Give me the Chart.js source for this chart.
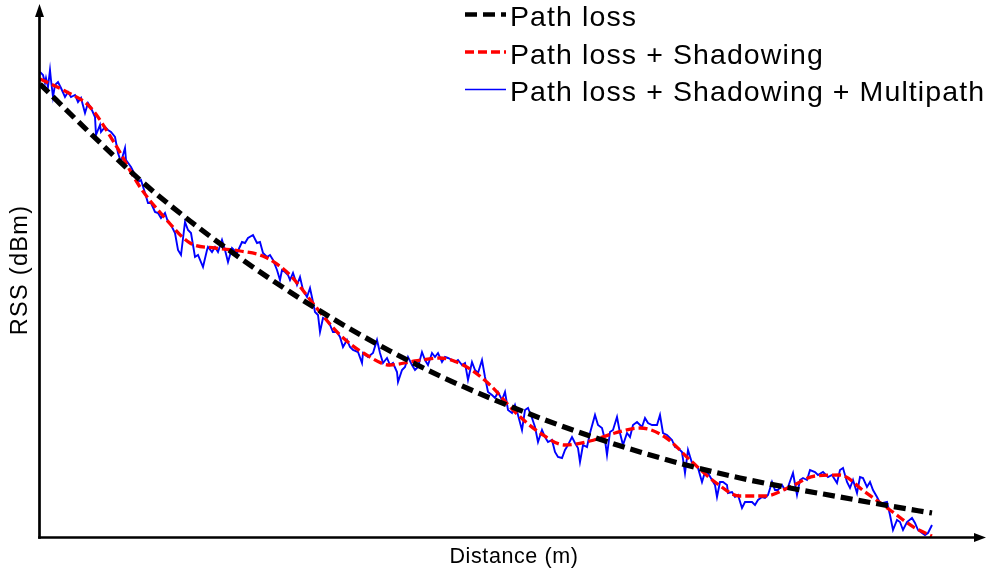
<!DOCTYPE html>
<html>
<head>
<meta charset="utf-8">
<script src="https://cdn.jsdelivr.net/npm/chart.js@4.4.1/dist/chart.umd.min.js"></script>
<style>
html,body{margin:0;padding:0;background:#fff;}
#wrap{width:987px;height:574px;}
</style>
</head>
<body>
<div id="wrap"><canvas id="c" width="987" height="574"></canvas></div>
<script>
// Series labels
const seriesLabels = ['Path loss', 'Path loss + Shadowing', 'Path loss + Shadowing + Multipath'];
const xTitle = 'Distance (m)';
const yTitle = 'RSS (dBm)';

// Path loss (dBm) vs distance (m)
const distPL = [0,50,100,150,200,250,300,350,400,450,500,550,600,650,700,750,800,850,892];
const rssPL = [-16.8,-26.6,-36.0,-44.2,-51.6,-58.4,-64.6,-70.2,-75.2,-79.6,-83.6,-87.2,-90.4,-93.2,-95.6,-97.6,-99.4,-101.2,-102.6];

// Path loss + shadowing
const distShadow = [0,25,50,75,100,125,150,175,200,225,250,275,300,325,350,375,400,425,450,475,500,525,550,575,600,625,650,675,700,725,750,775,800,825,850,875,892];
const rssShadow = [-15.8,-18.2,-21.4,-28.8,-37.4,-43.6,-48.6,-49.6,-50.2,-51.4,-55.0,-61.2,-67.0,-70.8,-73.0,-72.2,-71.6,-73.2,-77.0,-82.4,-86.6,-89.0,-88.2,-86.6,-85.6,-87.4,-92.0,-96.4,-99.2,-99.2,-97.4,-95.2,-95.0,-98.4,-102.0,-105.6,-107.2];

// Path loss + shadowing + multipath
const distMulti = [
0,3,5,6,8,10,11,13,15,18,21,25,28,31,35,38,41,45,48,51,55,56,60,61,65,68,71,75,78,81,85,86,91,95,98,101,105,108,111,115,118,121,125,128,131,135,138,141,145,148,151,155,158,
163,167,168,172,175,178,182,185,188,192,197,202,205,208,213,217,220,223,227,230,233,237,240,242,245,248,250,253,257,260,263,267,270,273,275,278,280,283,287,290,293,297,300,303,307,310,313,
318,322,323,328,333,337,340,343,347,350,353,357,358,362,365,368,372,375,378,382,385,388,392,395,398,402,405,408,412,415,418,422,425,428,432,435,438,442,445,448,452,455,458,462,465,468,472,475,
478,482,485,488,492,495,498,502,505,508,512,515,518,522,525,528,532,535,538,540,543,547,550,555,558,562,565,567,570,573,577,580,583,587,590,593,597,602,605,608,612,617,620,623,627,632,635,
638,642,645,648,652,655,658,662,665,668,672,675,677,680,683,687,688,692,695,698,702,705,708,712,715,718,722,725,728,732,735,738,742,745,748,753,757,760,763,767,770,775,778,783,788,792,
797,800,803,807,810,813,817,820,823,827,830,833,837,840,843,847,850,853,857,860,863,867,872,875,878,882,885,888,892];
const rssMulti = [
-14.4,-15,-16.6,-15.6,-17.4,-14,-16,-19.4,-17,-16.4,-17.6,-19.4,-18.4,-19.4,-19,-20.4,-19.6,-22.6,-20.6,-21.6,-23.4,-27,-25,-26.4,-25.4,-26,-26.4,-27.4,-30.6,-32.4,-29.6,-32,-33.4,-35,-36.4,-36,-38.6,-40.6,-40.6,-42.4,-42.6,-43.6,-42.6,-44.4,-45,-46.6,-50,-51,-44.4,-46,-46.6,-51.4,-51,
-53.4,-50,-49.4,-50.4,-49.4,-50.4,-48,-50,-52.4,-49.6,-50.6,-48.4,-48.6,-47.6,-47,-48.6,-48.4,-50.6,-51.4,-51,-52,-54,-56,-54,-54.4,-55,-56,-54.6,-57,-55.4,-58,-59.4,-57.6,-60.4,-62.4,-63,-66.4,-63.6,-64,-65,-66.4,-66.4,-67.4,-69.4,-68,-69.4,-70,
-70.4,-72.6,-70.6,-71.4,-70.6,-68,-70.6,-72.6,-71.6,-73,-72.6,-74.4,-76.4,-74,-73.4,-71.4,-73,-74,-73.4,-70.4,-72,-73,-70.6,-71.4,-70.6,-72.4,-71.4,-71.6,-72,-72.4,-72,-73,-72.6,-76,-72.4,-74,-74.6,-72,-75.4,-78.4,-79,-79.6,-78.4,-80,-78.4,-82,-82.6,-81,
-83,-86,-82,-81.6,-83.6,-85.4,-88.4,-86,-87.4,-88.4,-88,-90.4,-91.4,-91.6,-90,-89,-87.4,-88.6,-89.6,-92.4,-89,-89.4,-86.6,-83,-85,-85.6,-88,-91,-86.4,-86,-83.4,-86.6,-89,-86.6,-87.4,-85,-84.4,-85.4,-83.6,-84.6,-85,-85,-83,-86.6,-87,-88,-89.4,
-89.6,-90.4,-94.6,-90,-92.6,-93,-93.6,-96.4,-94.4,-94.6,-96,-97,-99.4,-96.4,-96.4,-97,-98.6,-98.4,-99.4,-99,-101.6,-100.4,-100.4,-100.4,-101,-100,-99.4,-99.6,-99,-96.4,-98,-98,-97,-98,-97.4,-94.6,-99,-96,-95.6,-96,-94,-94.4,-95,-94.4,-95.4,-95,
-96.6,-94,-93.6,-96.4,-97.6,-96,-98.6,-95.4,-95.6,-97.4,-96.4,-98,-99.4,-100.6,-100.6,-100.4,-103,-106,-104,-104.4,-106,-104.4,-103.6,-104.6,-106,-106.6,-107,-106.6,-105];

// Axis ranges
const xRange = [0, 945];
const yRange = [-107.6, -1];

const pairs = (xs, ys) => xs.map((x, i) => ({x: x, y: ys[i]}));

const FONT = '"Liberation Sans", Arial, Helvetica, sans-serif';

const decor = {
  id: 'decor',
  afterDatasetsDraw(chart) {
    const ctx = chart.ctx, a = chart.chartArea;
    ctx.save();
    ctx.strokeStyle = '#000';
    ctx.fillStyle = '#000';
    ctx.lineWidth = 2.7;
    ctx.setLineDash([]);
    const ax = a.left - 0.5, ay = a.bottom - 0.5;
    // y axis
    ctx.beginPath(); ctx.moveTo(ax, ay + 1.3); ctx.lineTo(ax, a.top + 10); ctx.stroke();
    ctx.beginPath(); ctx.moveTo(ax, a.top - 1); ctx.lineTo(ax - 4.5, a.top + 12); ctx.lineTo(ax + 4.5, a.top + 12); ctx.closePath(); ctx.fill();
    // x axis
    ctx.beginPath(); ctx.moveTo(ax - 1.3, ay); ctx.lineTo(a.right - 8, ay); ctx.stroke();
    ctx.beginPath(); ctx.moveTo(a.right + 1, ay); ctx.lineTo(a.right - 11, ay - 4.5); ctx.lineTo(a.right - 11, ay + 4.5); ctx.closePath(); ctx.fill();
    ctx.restore();
  },
  afterDraw(chart) {
    const ctx = chart.ctx, a = chart.chartArea;
    ctx.save();
    ctx.fillStyle = '#000';
    // axis titles
    ctx.font = '21.5px ' + FONT;
    ctx.letterSpacing = '0.6px';
    ctx.textAlign = 'center';
    ctx.textBaseline = 'alphabetic';
    ctx.fillText(xTitle, 514, 563);
    ctx.save();
    ctx.translate(27, 270);
    ctx.rotate(-Math.PI / 2);
    ctx.font = '23.5px ' + FONT;
    ctx.letterSpacing = '1.3px';
    ctx.fillText(yTitle, 0, 0);
    ctx.restore();
    // legend
    ctx.font = '28.5px ' + FONT;
    ctx.letterSpacing = '1.1px';
    ctx.textAlign = 'left';
    chart.data.datasets.forEach((ds, i) => {
      const ly = 14.5 + i * 37.5;
      ctx.save();
      ctx.strokeStyle = ds.borderColor;
      ctx.lineWidth = ds.legendWidth;
      ctx.setLineDash(ds.borderDash || []);
      ctx.beginPath(); ctx.moveTo(465, ly); ctx.lineTo(506, ly); ctx.stroke();
      ctx.restore();
      ctx.fillText(ds.label, 510, 26 + i * 37.5);
    });
    ctx.restore();
  }
};

new Chart(document.getElementById('c'), {
  type: 'line',
  data: {
    datasets: [
      {label: seriesLabels[0], data: pairs(distPL, rssPL), borderColor: '#000000', borderWidth: 5.2, legendWidth: 4.5, borderDash: [12, 6], borderCapStyle: 'butt', pointRadius: 0, cubicInterpolationMode: 'monotone', fill: false},
      {label: seriesLabels[1], data: pairs(distShadow, rssShadow), borderColor: '#ff0000', borderWidth: 3.3, legendWidth: 3.3, borderDash: [9, 4], borderCapStyle: 'butt', pointRadius: 0, cubicInterpolationMode: 'monotone', fill: false},
      {label: seriesLabels[2], data: pairs(distMulti, rssMulti), borderColor: '#0000ff', borderWidth: 1.9, legendWidth: 1.6, pointRadius: 0, tension: 0, fill: false}
    ]
  },
  options: {
    responsive: false,
    animation: false,
    devicePixelRatio: 1,
    layout: {padding: {left: 40, right: 2, top: 5, bottom: 36}},
    plugins: {legend: {display: false}, tooltip: {enabled: false}},
    scales: {
      x: {type: 'linear', min: xRange[0], max: xRange[1], display: false},
      y: {type: 'linear', min: yRange[0], max: yRange[1], display: false}
    }
  },
  plugins: [decor]
});
</script>
</body>
</html>
